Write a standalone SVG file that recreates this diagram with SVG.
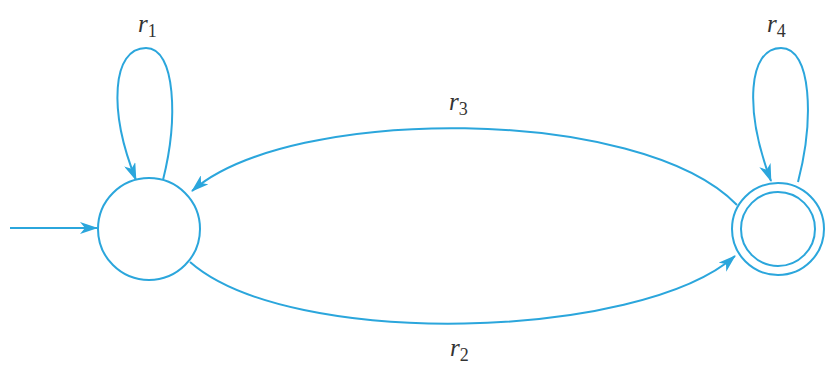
<svg xmlns="http://www.w3.org/2000/svg" width="825" height="370" viewBox="0 0 825 370">
<style>
.e{fill:none;stroke:#2ba6dc;stroke-width:2}
.n{fill:#fff;stroke:#2ba6dc;stroke-width:2}
.l{font-family:"Liberation Serif",serif;font-size:25px;fill:#333}
.r{font-style:italic}
.s{font-size:18px}
</style>
<defs>
<marker id="a" markerWidth="18" markerHeight="12" refX="17" refY="6" orient="auto" markerUnits="userSpaceOnUse">
<path d="M0,0 L18,6 L0,12 L5,6 z" fill="#2ba6dc"/>
</marker>
</defs>
<rect width="825" height="370" fill="#fff"/>
<g id="connectors">
<path class="e" d="M10,228 L97,228" marker-end="url(#a)"/>
<path class="e" d="M163,180 C178,120 176,48 146,48 C112,48 108,110 136,180" marker-end="url(#a)"/>
<path class="e" d="M798,182 C814,120 812,48 781,48 C748,48 744,110 771,181" marker-end="url(#a)"/>
<path class="e" d="M737,205 C640,105 290,105 192,191" marker-end="url(#a)"/>
<path class="e" d="M190,262 C290,350 640,340 735,256" marker-end="url(#a)"/>
</g>
<g id="q0">
<circle class="n" cx="149" cy="229" r="51"/>
</g>
<g id="q1">
<circle class="n" cx="778" cy="229" r="46"/>
<circle class="n" cx="778" cy="229" r="37"/>
</g>
<g id="labels">
<text class="l" x="138" y="32"><tspan class="r">r</tspan><tspan class="s" dy="5">1</tspan></text>
<text class="l" x="767" y="32"><tspan class="r">r</tspan><tspan class="s" dy="5">4</tspan></text>
<text class="l" x="449" y="110"><tspan class="r">r</tspan><tspan class="s" dy="5">3</tspan></text>
<text class="l" x="450" y="356"><tspan class="r">r</tspan><tspan class="s" dy="5">2</tspan></text>
</g>
</svg>
